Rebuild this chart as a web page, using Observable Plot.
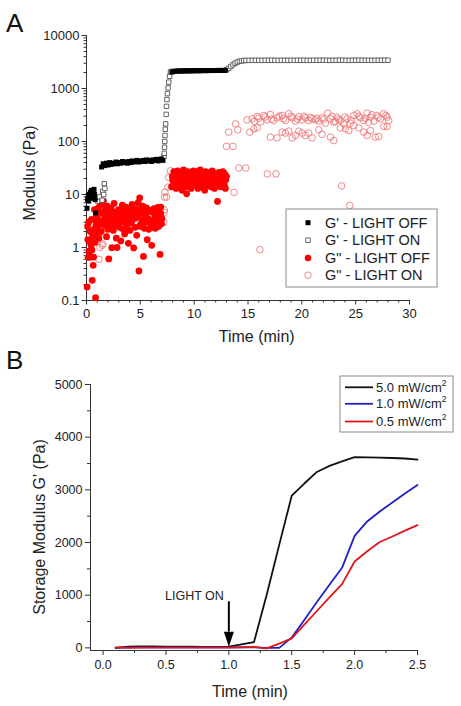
<!DOCTYPE html>
<html><head><meta charset="utf-8">
<script src="https://cdn.jsdelivr.net/npm/d3@7"></script>
<script src="https://cdn.jsdelivr.net/npm/@observablehq/plot@0.6"></script>
<style>
body{margin:0;background:#fff}
#fig{position:relative;width:461px;height:706px}
#fig svg{position:absolute;left:0;overflow:visible}
</style>
</head><body><div id="fig"></div>
<script>
// ---------- Panel A data: [time (min), modulus (Pa)] ----------
const gpOff = [
[0.05,5.5],[0.1,8],[0.15,9.5],[0.2,7.5],[0.25,10],[0.3,8.5],[0.35,11],[0.4,9],[0.45,12],[0.5,10],[0.55,8.5],[0.6,11],[0.65,9.5],[0.7,12.5],[0.75,10],[0.8,8],[0.85,4.5],
[1.40,33],[1.55,38],[1.70,35],[1.85,39],[2.00,36],[2.15,40],[2.30,37],[2.45,39],[2.60,38],[2.75,41],[2.90,38],[3.05,40],[3.20,39],[3.35,42],[3.50,40],[3.65,41],[3.80,39],[3.95,42],[4.10,40],[4.25,43],[4.40,41],[4.55,42],[4.70,44],[4.85,41],[5.00,43],[5.15,42],[5.30,44],[5.45,42],[5.60,45],[5.75,43],[5.90,44],[6.05,42],[6.20,45],[6.35,44],[6.50,46],[6.65,43],[6.80,45],[6.95,47],[7.10,44],
[7.95,2050],[8.1,2100],[8.25,2120],[8.4,2130],[8.55,2140],[8.7,2130],[8.85,2150],[9.0,2140],[9.15,2150],[9.3,2160],[9.45,2150],[9.6,2160],[9.75,2150],[9.9,2160],[10.05,2170],[10.2,2160],[10.35,2170],[10.5,2160],[10.65,2170],[10.8,2180],[10.95,2170],[11.1,2180],[11.25,2170],[11.4,2180],[11.55,2190],[11.7,2180],[11.85,2190],[12.0,2180],[12.15,2190],[12.3,2200],[12.45,2190],[12.6,2200],[12.75,2190],[12.9,2200]
];
const gpOn = [
[1.05,7.5],[1.2,9],[1.45,7.8],[1.5,11.5],[1.6,10],[1.65,16],[1.7,13],
[7.2,52],[7.22,60],[7.25,78],[7.27,100],[7.29,130],[7.32,170],[7.35,215],[7.4,325],[7.43,460],[7.47,620],[7.52,800],[7.58,1030],[7.64,1320],[7.72,1700],[7.8,2040],[7.88,2100],
[13.0,2250],[13.2,2400],[13.4,2600],[13.6,2800],[13.8,3000],[14.0,3150],[14.2,3250],[14.4,3320],[14.6,3370],
[14.8,3380],[15.1,3400],[15.4,3390],[15.7,3410],[16.0,3400],[16.3,3390],[16.6,3410],[16.9,3400],[17.2,3420],[17.5,3400],[17.8,3390],[18.1,3410],[18.4,3400],[18.7,3390],[19.0,3410],[19.3,3400],[19.6,3420],[19.9,3400],[20.2,3410],[20.5,3390],[20.8,3400],[21.1,3410],[21.4,3400],[21.7,3420],[22.0,3410],[22.3,3400],[22.6,3390],[22.9,3410],[23.2,3400],[23.5,3420],[23.8,3410],[24.1,3400],[24.4,3390],[24.7,3410],[25.0,3400],[25.3,3420],[25.6,3410],[25.9,3400],[26.2,3410],[26.5,3390],[26.8,3400],[27.1,3410],[27.4,3400],[27.7,3420],[28.0,3410]
];
const gppOff = [
[0.06,0.18],[0.1,2.5],[0.12,1.4],[0.16,0.65],[0.2,3.0],[0.24,0.85],[0.28,1.3],[0.31,0.85],[0.35,2.0],[0.37,0.66],[0.42,1.1],[0.46,3.4],[0.5,0.9],[0.53,0.24],[0.58,1.6],[0.62,0.46],[0.66,0.66],[0.7,2.2],[0.74,5.2],[0.78,3.3],[0.8,1.25],[0.84,0.113],[0.88,2.6],[0.92,4.0],[0.96,1.9],[1.0,3.6],[1.05,2.4],[1.1,5.6],[1.15,1.5],[1.2,3.0],[1.25,7.0],
[1.30,4.5],[1.37,2.0],[1.44,6.5],[1.51,3.2],[1.58,7.5],[1.65,2.6],[1.72,5.0],[1.79,3.8],[1.86,1.6],[1.93,6.0],[2.00,2.9],[2.07,0.61],[2.14,4.2],[2.21,2.3],[2.28,5.5],[2.35,0.99],[2.42,3.4],[2.49,2.1],[2.56,6.8],[2.63,2.7],[2.70,4.6],[2.77,1.5],[2.84,1.0],[2.91,3.6],[2.98,5.2],[3.05,2.4],[3.12,4.0],[3.19,1.33],[3.26,3.1],[3.33,6.3],[3.40,2.2],[3.47,4.8],[3.54,1.8],[3.61,3.3],[3.68,5.8],[3.75,2.6],[3.82,4.3],[3.89,1.2],[3.96,3.7],[4.03,2.1],[4.10,5.0],[4.17,2.9],[4.24,6.5],[4.31,3.4],[4.38,0.98],[4.45,4.4],[4.52,2.4],[4.59,5.3],[4.66,1.7],[4.73,3.9],[4.80,7.0],[4.87,0.36],[4.94,8.6],[5.01,2.7],[5.08,4.7],[5.15,3.1],[5.22,6.0],[5.29,0.68],[5.36,2.3],[5.43,4.1],[5.50,3.0],[5.57,5.6],[5.64,1.4],[5.71,3.5],[5.78,2.2],[5.85,4.9],[5.92,3.2],[5.99,2.6],[6.06,1.1],[6.13,4.6],[6.20,2.9],[6.27,5.4],[6.34,3.6],[6.41,2.3],[6.48,4.2],[6.55,3.1],[6.62,5.7],[6.69,2.5],[6.76,3.8],[6.83,0.74],[6.90,4.4],[6.97,2.8],
[1.4,3.0],[1.62,4.2],[1.9,3.5],[2.1,5.0],[2.3,3.0],[2.55,4.0],[2.8,2.8],[3.0,4.5],[3.2,3.0],[3.45,3.8],[3.7,2.9],[3.9,4.6],[4.15,3.2],[4.35,5.2],[4.6,3.6],[4.85,4.2],[5.1,5.5],[5.3,3.4],[5.55,4.4],[5.8,3.3],[6.0,5.0],[6.25,3.0],[6.45,5.3],[6.7,3.9],[6.9,5.8],[7.0,3.5],[2.0,2.2],[3.6,2.3],[5.0,2.5],[6.1,2.4],
[7.90,14],[7.97,22],[8.04,18],[8.11,27],[8.18,16],[8.25,24],[8.32,13],[8.39,20],[8.46,28],[8.53,17],[8.60,23],[8.67,15],[8.74,26],[8.81,19],[8.88,12],[8.95,22],[9.02,29],[9.09,17],[9.16,24],[9.23,14],[9.30,10.3],[9.37,21],[9.44,27],[9.51,16],[9.58,23],[9.65,19],[9.72,13],[9.79,25],[9.86,18],[9.93,28],[10.00,21],[10.07,15],[10.14,24],[10.21,18],[10.28,27],[10.35,13],[10.42,22],[10.49,17],[10.56,29],[10.63,20],[10.70,14],[10.77,25],[10.84,19],[10.91,23],[10.98,12],[11.05,27],[11.12,17],[11.19,22],[11.26,15],[11.33,26],[11.40,19],[11.47,24],[11.54,14],[11.61,21],[11.68,28],[11.75,17],[11.82,23],[11.89,13],[11.96,25],[12.03,19],[12.10,22],[12.17,7.4],[12.24,16],[12.31,26],[12.38,20],[12.45,14],[12.52,24],[12.59,18],[12.66,27],[12.73,21],[12.80,15],[12.87,23],[12.94,19],
[8.0,19],[8.3,21],[8.6,25],[8.9,17],[9.2,20],[9.5,24],[9.8,21],[10.1,19],[10.4,25],[10.7,22],[11.0,18],[11.3,21],[11.6,24],[11.9,19],[12.2,23],[12.5,20],[12.8,25],[13.0,22],[9.0,15],[10.0,16],[11.0,15],[12.0,16],[12.9,13]
];
const gppOn = [
[1.15,0.6],[1.24,1.0],[1.46,1.1],[1.52,1.17],[1.55,1.9],[1.3,3.0],[1.24,3.6],[1.28,4.7],[1.4,2.8],[1.35,5.5],[1.5,6.5],
[7.18,3.0],[7.2,4.6],[7.22,5.1],[7.25,8.9],[7.28,11],[7.43,8.9],[7.55,13.8],[7.64,21],[7.8,28],
[13.0,81],[13.2,150],[13.6,81],[13.7,11],[13.85,215],[14.15,31.6],[14.05,166],[14.8,31.6],[16.1,0.91],[16.8,24.5],[17.6,24.5],[23.7,14.5],[24.45,6.2],
[14.92,256],[15.38,268],[15.85,296],[16.16,232],[16.47,310],[16.78,256],[17.08,323],[17.39,249],[17.70,280],[18.17,310],[18.48,249],[18.79,333],[19.10,280],[19.41,242],[19.72,296],[20.02,256],[20.33,280],[20.64,249],[20.95,268],[21.26,256],[21.57,242],[21.88,280],[22.19,222],[22.41,343],[22.66,268],[22.97,232],[23.27,288],[23.58,249],[23.89,215],[24.20,268],[24.51,222],[24.82,310],[25.13,333],[25.44,280],[25.75,249],[26.06,343],[26.37,288],[26.68,242],[26.99,310],[27.30,268],[27.61,333],[27.92,288],[28.07,249],
[15.17,150],[15.54,173],[15.85,181],[17.08,121],[17.70,117],[18.17,150],[18.48,144],[18.79,157],[19.10,117],[19.41,130],[19.72,157],[20.02,144],[20.33,130],[20.64,144],[20.95,117],[21.57,166],[21.88,136],[22.66,121],[22.97,104],[23.58,181],[24.05,173],[24.36,161],[24.82,200],[25.29,181],[25.75,150],[26.06,130],[26.37,161],[26.83,121],[27.14,124],[27.61,192],[27.92,192],
[15.6,240],[16.0,275],[16.6,290],[17.2,265],[17.9,300],[18.3,270],[19.0,300],[19.6,265],[20.2,300],[20.8,285],[21.4,275],[22.0,260],[22.8,300],[23.4,265],[24.0,290],[24.6,250],[25.3,300],[25.9,275],[26.5,320],[27.1,285],[27.8,310],[26.2,230],[23.1,240]
];
const legendLabelsA = ["G' - LIGHT OFF", "G' - LIGHT ON", 'G" - LIGHT OFF', 'G" - LIGHT ON'];
const yTicksA = [0.1, 1, 10, 100, 1000, 10000];
const yTickLabelsA = ["0.1", "1", "10", "100", "1000", "10000"];
const xTicksA = [0, 5, 10, 15, 20, 25, 30];

// ---------- Panel B data ----------
const timesB = [0.1,0.2,0.3,0.4,0.5,0.6,0.7,0.8,0.9,1.0,1.1,1.2,1.3,1.4,1.5,1.6,1.7,1.8,1.9,2.0,2.1,2.2,2.3,2.4,2.5];
const g50 = [0,25,30,28,25,22,22,20,20,22,65,110,1000,1950,2890,3120,3340,3455,3540,3620,3615,3610,3605,3595,3575];
const g10 = [0,10,10,10,10,10,10,10,10,10,15,10,0,0,195,530,870,1200,1520,2125,2400,2590,2760,2930,3090];
const g05 = [10,0,5,5,5,5,5,5,5,5,10,20,-10,80,180,440,700,960,1210,1640,1835,2010,2115,2225,2330];
const seriesB = ["5.0 mW/cm", "1.0 mW/cm", "0.5 mW/cm"];
const colorsB = ["#111111", "#2020c8", "#e0161b"];
const yTicksB = [0, 1000, 2000, 3000, 4000, 5000];
const xTicksB = [0, 0.5, 1.0, 1.5, 2.0, 2.5];
const xTickLabelsB = ["0.0", "0.5", "1.0", "1.5", "2.0", "2.5"];
const lightOn = [{x: 1.0, top: 875, base: 300, tip: 20, ty: 990, label: "LIGHT ON"}];

const FONT = "'Liberation Sans', Arial, Helvetica, sans-serif";
const AX = "#333";

// minor tick positions
const minorYA = [];
for (let e = -1; e < 4; e++) for (let k = 2; k <= 9; k++) minorYA.push(k * Math.pow(10, e));
const minorXA = d3.range(0, 31, 1).filter(d => d % 5 !== 0);

const plotA = Plot.plot({
  width: 461, height: 353,
  marginTop: 35, marginBottom: 53, marginLeft: 86, marginRight: 52,
  style: {fontFamily: FONT, fontSize: "13px", color: "#222", background: "transparent", overflow: "visible"},
  x: {domain: [0, 30]},
  y: {type: "log", domain: [0.1, 10000]},
  marks: [
    Plot.axisY({ticks: minorYA, tickSize: 2.5, tickFormat: () => "", label: null, stroke: AX}),
    Plot.axisY({ticks: yTicksA, tickSize: 4.5, tickPadding: 2.5, tickFormat: d => yTickLabelsA[yTicksA.indexOf(d)], label: null, stroke: AX}),
    Plot.axisX({ticks: minorXA, tickSize: 2.5, tickFormat: () => "", label: null, stroke: AX}),
    Plot.axisX({ticks: xTicksA, tickSize: 4.5, tickPadding: 4, tickFormat: d => String(d), label: null, stroke: AX}),
    Plot.ruleX([0], {stroke: AX}),
    Plot.ruleY([0.1], {stroke: AX}),
    Plot.dot(gppOn, {x: d => d[0], y: d => d[1], r: 3.3, fill: "none", stroke: "#ef7b7b", strokeWidth: 0.9}),
    Plot.dot(gppOff, {x: d => d[0], y: d => d[1], r: 3.4, fill: "#ff0000", stroke: "none"}),
    Plot.dot(gpOn, {x: d => d[0], y: d => d[1], symbol: "square", r: 2.5, fill: "white", stroke: "#555", strokeWidth: 0.9}),
    Plot.dot(gpOff, {x: d => d[0], y: d => d[1], symbol: "square", r: 2.8, fill: "#000"})
  ]
});

const arrowHead = {draw(ctx) { ctx.moveTo(0, 0); ctx.lineTo(-5, -15); ctx.lineTo(5, -15); ctx.closePath(); }};
const rowsB = [];
seriesB.forEach((s, i) => {
  const vals = [g50, g10, g05][i];
  timesB.forEach((t, j) => rowsB.push({series: s, t, v: vals[j]}));
});

const plotB = Plot.plot({
  width: 461, height: 353,
  marginTop: 31, marginBottom: 56, marginLeft: 90, marginRight: 44,
  style: {fontFamily: FONT, fontSize: "12.5px", color: "#222", background: "transparent", overflow: "visible"},
  x: {domain: [-0.1, 2.5]},
  y: {domain: [-50, 5000]},
  color: {domain: seriesB, range: colorsB},
  marks: [
    Plot.axisY({ticks: [500, 1500, 2500, 3500, 4500], tickSize: 3, tickFormat: () => "", label: null, stroke: AX}),
    Plot.axisY({ticks: yTicksB, tickSize: 5, tickPadding: 3, tickFormat: d => String(d), label: null, stroke: AX}),
    Plot.axisX({ticks: [0.25, 0.75, 1.25, 1.75, 2.25], tickSize: 3, tickFormat: () => "", label: null, stroke: AX}),
    Plot.axisX({ticks: xTicksB, tickSize: 5, tickPadding: 5, tickFormat: d => xTickLabelsB[xTicksB.indexOf(d)], label: null, stroke: AX}),
    Plot.ruleX([-0.1], {stroke: AX}),
    Plot.ruleY([-50], {stroke: AX}),
    Plot.line(rowsB, {x: "t", y: "v", z: "series", stroke: "series", strokeWidth: 1.8}),
    Plot.ruleX(lightOn, {x: "x", y1: "top", y2: "base", stroke: "#000", strokeWidth: 2}),
    Plot.dot(lightOn, {x: "x", y: "tip", symbol: arrowHead, fill: "#000", stroke: "none", r: 5}),
    Plot.text(lightOn, {x: "x", y: "ty", text: "label", textAnchor: "end", dx: -5, fontSize: 12.5, fill: "#222"})
  ]
});

const fig = document.getElementById("fig");
plotA.style.top = "0px";
plotB.style.top = "353px";
fig.append(plotA, plotB);

// ---------- annotations: titles, panel letters, legends ----------
const sA = d3.select(plotA), sB = d3.select(plotB);
function txt(sel, x, y, s, size, anchor, rot) {
  const t = sel.append("text").attr("font-family", FONT).attr("font-size", size).attr("fill", "#222")
    .attr("text-anchor", anchor || "start").text(s);
  if (rot) t.attr("transform", `translate(${x},${y}) rotate(-90)`); else t.attr("x", x).attr("y", y);
  return t;
}
txt(sA, 6, 32, "A", 26).attr("fill", "#111");
txt(sA, 34.5, 173, "Modulus (Pa)", 16, "middle", true);
txt(sA, 256.7, 342, "Time (min)", 16, "middle");
txt(sB, 6, 16, "B", 26).attr("fill", "#111");
txt(sB, 44.5, 174, "Storage Modulus G' (Pa)", 16, "middle", true);
txt(sB, 250, 344, "Time (min)", 16, "middle");

// legend A
const lgA = sA.append("g");
lgA.append("rect").attr("x", 286).attr("y", 209).attr("width", 151).attr("height", 78)
  .attr("fill", "white").attr("stroke", "#8a8a8a").attr("stroke-width", 1);
const rowYA = [222.7, 240.2, 258, 275.2];
const symA = [
  {type: d3.symbolSquare, size: 25, fill: "#000", stroke: "none"},
  {type: d3.symbolSquare, size: 20, fill: "white", stroke: "#555"},
  {type: d3.symbolCircle, size: 34, fill: "#ff0000", stroke: "none"},
  {type: d3.symbolCircle, size: 34, fill: "none", stroke: "#ef7b7b"}
];
legendLabelsA.forEach((lab, i) => {
  lgA.append("path").attr("d", d3.symbol(symA[i].type, symA[i].size)())
    .attr("transform", `translate(308,${rowYA[i]})`)
    .attr("fill", symA[i].fill).attr("stroke", symA[i].stroke).attr("stroke-width", 0.9);
  txt(lgA, 325, rowYA[i], lab, 14.5).attr("dy", "0.36em");
});

// legend B
const lgB = sB.append("g");
lgB.append("rect").attr("x", 340).attr("y", 23).attr("width", 113).attr("height", 56)
  .attr("fill", "white").attr("stroke", "#8a8a8a").attr("stroke-width", 1);
const rowYB = [34.3, 50.8, 68.5];
seriesB.forEach((s, i) => {
  lgB.append("line").attr("x1", 345).attr("x2", 373).attr("y1", rowYB[i]).attr("y2", rowYB[i])
    .attr("stroke", colorsB[i]).attr("stroke-width", 1.8);
  const t = txt(lgB, 376, rowYB[i], s, 13).attr("dy", "0.36em");
  t.append("tspan").attr("font-size", 8.5).attr("dy", "-0.75em").text("2");
});
</script></body></html>
